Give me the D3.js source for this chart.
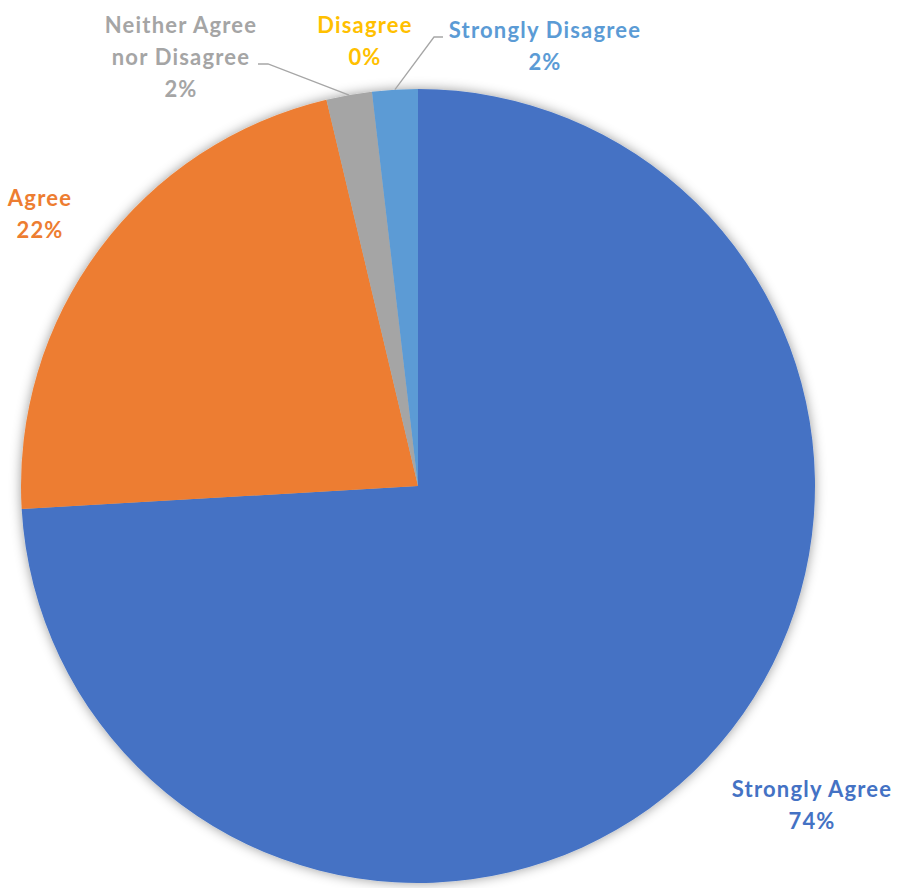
<!DOCTYPE html>
<html lang="en">
<head>
  <meta charset="UTF-8">
  <title>Survey responses</title>
  <style>
    body { margin: 0; background: #fff; }
    text { font-family: 'Lato', 'Open Sans', sans-serif; font-weight: 700; }
  </style>
</head>
<body>
  <svg id="svg" width="899" height="888"></svg>

  <script src="https://d3js.org/d3.v7.min.js"></script>
  <script>
    // ------ DATA ------------------------
    const categories = ['Strongly Agree', 'Agree', 'Neither Agree nor Disagree', 'Disagree', 'Strongly Disagree']
    const counts = [40, 12, 1, 0, 1]
    const colors = ['#4472C4', '#ED7D31', '#A5A5A5', '#FFC000', '#5B9BD5']

    // label lines (text split how excel wraps it)
    const labelLines = [
      ['Strongly Agree'],
      ['Agree'],
      ['Neither Agree', 'nor Disagree'],
      ['Disagree'],
      ['Strongly Disagree']
    ]

    // ------ LAYOUT ------------------------
    const cx = 418
    const cy = 486
    const radius = 397
    const lineHeight = 32
    // where each label block starts (centre x, first baseline y)
    const labelPos = [
      { x: 812, y: 797 },
      { x: 40, y: 206 },
      { x: 181, y: 33 },
      { x: 365, y: 33 },
      { x: 545, y: 38 }
    ]
    // leader lines: [label end, elbow]
    const leaders = [
      null, null,
      { from: [258, 64], elbow: [268, 64] },
      null,
      { from: [443, 37], elbow: [434, 37] }
    ]

    const svg = d3.select('#svg')

    const defs = svg.append('defs')
    const filter = defs.append('filter')
      .attr('id', 'shadow')
      .attr('x', '-10%').attr('y', '-10%')
      .attr('width', '120%').attr('height', '120%')
    filter.append('feDropShadow')
      .attr('dx', 0).attr('dy', 0)
      .attr('stdDeviation', 6)
      .attr('flood-color', '#000')
      .attr('flood-opacity', 0.4)

    const total = d3.sum(counts)
    const pct = d3.format('.0%')

    const pie = d3.pie().sort(null).value(d => d)
    const arcs = pie(counts)
    const arc = d3.arc().innerRadius(0).outerRadius(radius)

    const g = svg.append('g').attr('transform', `translate(${cx}, ${cy})`)

    g.append('g')
      .attr('filter', 'url(#shadow)')
      .selectAll('path')
      .data(arcs)
      .enter()
      .append('path')
      .attr('d', arc)
      .attr('fill', (d, i) => colors[i])

    // leader lines go from the label to the middle of the slice edge
    const edgeArc = d3.arc().innerRadius(radius).outerRadius(radius)
    leaders.forEach((l, i) => {
      if (!l) return
      const c = edgeArc.centroid(arcs[i])
      const pts = [l.from, l.elbow, [c[0] + cx, c[1] + cy]]
      svg.append('polyline')
        .attr('points', pts.map(p => p.join(',')).join(' '))
        .attr('fill', 'none')
        .attr('stroke', '#A6A6A6')
        .attr('stroke-width', 1.3)
    })

    // ------ LABELS ------------------------
    categories.forEach((name, i) => {
      const lines = labelLines[i].concat([pct(counts[i] / total)])
      const t = svg.append('text')
        .attr('text-anchor', 'middle')
        .attr('fill', colors[i])
        .style('font-size', '22px')
        .style('letter-spacing', '1.2px')
      lines.forEach((line, j) => {
        t.append('tspan')
          .attr('x', labelPos[i].x)
          .attr('y', labelPos[i].y + j * lineHeight)
          .text(line)
      })
    })
  </script>
</body>
</html>
